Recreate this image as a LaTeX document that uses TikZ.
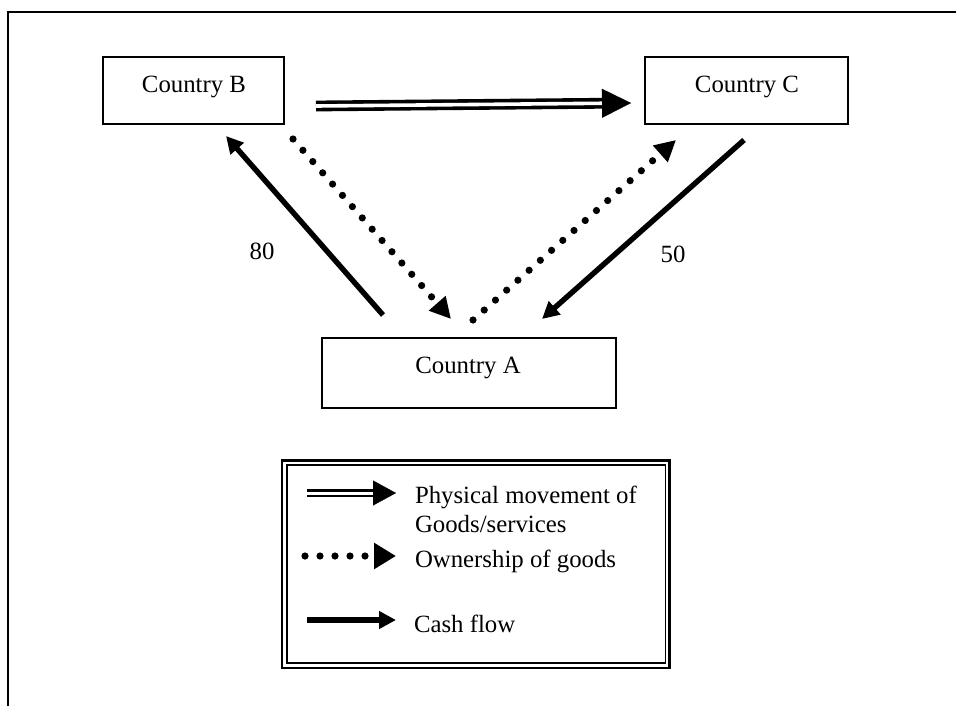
\documentclass[tikz,border=0pt]{standalone}
\usepackage{fontspec}
\setmainfont{Liberation Serif}
\usetikzlibrary{arrows.meta,calc}

\begin{document}
\begin{tikzpicture}[x=0.5pt,y=-0.5pt,
  every node/.style={inner sep=0pt, outer sep=0pt, font=\fontsize{12.4}{15}\selectfont},
  country/.style={draw, line width=0.7pt, minimum width=#1*0.5pt, minimum height=33.5pt},
  cash/.style={line width=2.7pt, -{Triangle[length=8.5pt,width=8.5pt]}},
  owner/.style={line width=3.6pt, line cap=round, dash pattern=on 0pt off 7.5pt,
                -{Triangle[length=10.5pt,width=10.5pt]}},
  dblline/.style={double, line width=1.8pt, double distance=1.8pt},
  headonly/.style={line width=0.1pt, -{Triangle[length=#1,width=#1]}}
]
\useasboundingbox (0,0) rectangle (956,706);

% page frame (top and left edges only)
\draw[line width=1pt] (8,706) -- (8,12) -- (956,12);

% countries
\node[country=181] (B) at (193.5,90.5) {};
\node[anchor=base] (Bt) at (194,92) {Country B};
\node[country=203] (C) at (746.5,90.5) {};
\node[anchor=base] (Ct) at (747,92) {Country C};
\node[country=294, minimum height=35pt] (A) at (469,373) {};
\node[anchor=base] (At) at (468,373) {Country A};

% connector end points
\coordinate (gs) at (316,106);  \coordinate (gt) at (631,103);
\coordinate (ab1) at (383,315); \coordinate (ab2) at (226,136);
\coordinate (ca1) at (744,140); \coordinate (ca2) at (542,319);
\coordinate (ba1) at (293,139); \coordinate (ba2) at (451,319);
\coordinate (ac1) at (473,320); \coordinate (ac2) at (676,140);

% physical movement of goods: B -> C
\draw[dblline, shorten >=13.5pt] (gs) -- (gt);
\draw[headonly=14.5pt] ($(gt)!14.5pt!(gs)$) -- (gt);

% cash flows
\draw[cash] (ab1) -- (ab2);
\draw[cash] (ca1) -- (ca2);
\node[anchor=base] (n80) at (262,259) {80};
\node[anchor=base] (n50) at (673,262) {50};

% ownership of goods
\draw[owner] (ba1) -- (ba2);
\draw[owner] (ac1) -- (ac2);

% legend
\draw[line width=1.4pt] (282,460.5) rectangle (669.5,668);
\draw[line width=0.6pt] (287,465) rectangle (665.5,663);

\coordinate (l1s) at (307,493); \coordinate (l1t) at (396,493);
\draw[double, line width=1.3pt, double distance=1.5pt, shorten >=11pt] (l1s) -- (l1t);
\draw[line width=0.1pt, -{Triangle[length=11.5pt,width=12.5pt]}] ($(l1t)!11.5pt!(l1s)$) -- (l1t);
\node[anchor=base west] (lt1) at (415,503) {Physical movement of};
\node[anchor=base west] (lt1b) at (415,532) {Goods/services};

\coordinate (l2s) at (305,556); \coordinate (l2t) at (396,556);
\draw[line width=3.6pt, line cap=round, dash pattern=on 0pt off 7.5pt,
      -{Triangle[length=11pt,width=12.5pt]}] (l2s) -- (l2t);
\node[anchor=base west] (lt2) at (415,567) {Ownership of goods};

\coordinate (l3s) at (307,620); \coordinate (l3t) at (396,620);
\draw[line width=3pt, -{Triangle[length=8.5pt,width=8.5pt]}] (l3s) -- (l3t);
\node[anchor=base west] (lt3) at (414,632) {Cash flow};
\end{tikzpicture}
\end{document}
